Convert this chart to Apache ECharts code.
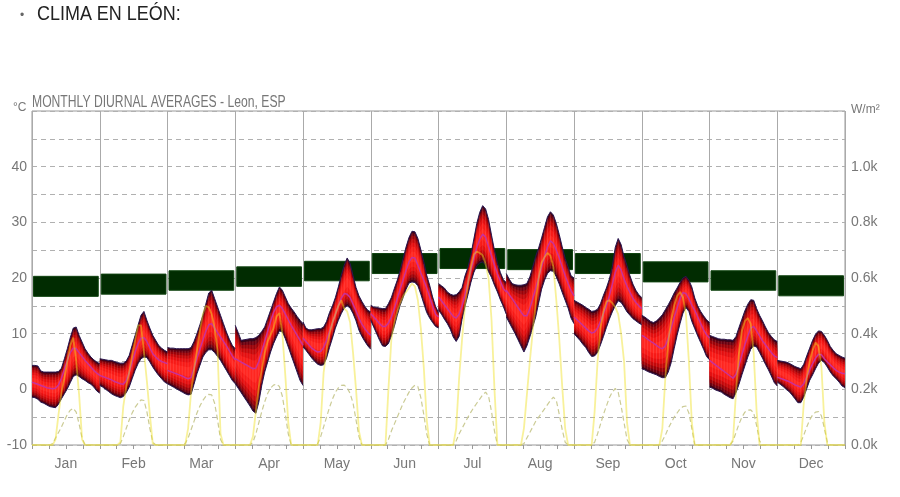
<!DOCTYPE html>
<html><head><meta charset="utf-8">
<script src="https://cdn.jsdelivr.net/npm/echarts/dist/echarts.min.js"></script>
<style>html,body{margin:0;padding:0;background:#fff}#c{width:900px;height:497px}</style>
</head><body><div id="c"></div><script>
const months = ['Jan','Feb','Mar','Apr','May','Jun','Jul','Aug','Sep','Oct','Nov','Dec'];
// hourly (0..23) temperature maxima, °C
const tMax = [
 [4.3,4.3,4.2,3.3,3.1,3.1,3.1,3.1,3.1,3.2,3.8,5.5,7.3,9.3,11.0,11.2,9.7,8.5,7.3,6.5,5.8,5.3,4.9,4.6],
 [5.5,5.4,5.3,5.2,5.2,5.0,4.8,4.7,4.7,5.1,6.1,7.9,9.7,11.5,13.3,14.0,12.4,11.0,9.7,8.8,7.9,7.4,7.0,6.7],
 [7.5,7.4,7.4,7.3,7.3,7.3,7.3,7.3,7.5,8.6,10.0,11.6,13.3,15.3,17.3,17.8,16.3,14.8,13.3,11.8,10.3,9.0,7.9,7.3],
 [11.5,10.2,8.8,8.9,9.0,9.1,9.1,9.3,9.7,10.4,11.2,12.7,14.2,15.7,17.2,18.4,17.8,16.6,15.4,14.6,13.9,13.1,12.4,11.8],
 [12.1,11.0,10.7,10.7,10.8,10.9,10.9,11.2,12.2,13.8,15.0,16.5,18.4,20.5,22.3,23.6,22.6,20.4,18.3,16.8,15.8,14.9,14.2,13.9],
 [15.1,14.8,14.7,14.6,14.5,14.5,15.4,16.5,18.1,19.6,21.4,23.5,25.6,27.3,28.4,28.3,27.1,25.1,22.9,20.5,18.7,16.6,14.9,13.8],
 [19.0,18.6,18.2,17.5,17.1,16.9,17.0,17.5,18.3,20.4,21.9,24.2,27.0,29.8,31.8,33.0,32.4,30.5,27.7,25.0,22.7,21.0,19.7,19.2],
 [20.8,19.8,19.0,18.8,18.7,18.7,18.8,19.0,20.2,22.0,23.9,25.4,27.2,29.1,31.0,31.9,31.3,29.8,27.8,25.6,23.5,22.0,20.4,20.0],
 [16.0,15.7,15.4,15.1,14.7,14.4,14.0,14.1,14.4,15.4,16.9,18.2,19.8,22.0,25.5,27.1,26.0,23.8,22.2,20.4,18.9,17.8,17.0,16.5],
 [13.3,13.0,12.6,12.2,12.0,12.3,12.8,13.4,14.3,15.2,16.2,17.3,18.2,19.2,20.0,20.3,19.6,18.4,16.4,15.0,14.0,13.2,12.5,12.0],
 [9.7,9.5,9.3,9.1,9.0,9.0,8.9,8.9,8.8,9.5,11.1,12.6,14.1,15.3,16.1,16.0,14.5,13.3,12.3,11.2,10.2,9.5,8.9,8.6],
 [5.2,5.1,5.0,4.9,4.7,4.4,4.1,3.9,3.7,4.5,6.0,7.4,8.8,9.9,10.5,10.4,9.7,8.8,7.7,7.0,6.4,6.1,5.8,5.6]
];
// hourly temperature minima, °C
const tMin = [
 [-1.4,-1.5,-1.8,-2.3,-2.5,-2.8,-3.1,-3.2,-3.3,-2.7,-1.7,-0.8,0.1,1.2,2.3,2.6,2.3,1.9,1.6,1.2,0.9,0.4,-0.3,-0.7],
 [0.7,0.4,0.0,-0.4,-0.8,-1.1,-1.3,-1.5,-1.3,-0.6,0.4,1.9,3.4,4.6,5.5,5.8,5.7,4.9,4.0,3.2,2.5,1.9,1.3,1.0],
 [1.0,0.7,0.4,0.1,-0.2,-0.5,-0.8,-1.0,-0.9,0.9,2.8,4.3,5.8,6.6,7.1,7.1,6.6,5.9,5.2,4.3,3.4,2.5,1.6,1.0],
 [1.0,0.2,-0.6,-1.4,-2.2,-3.0,-3.9,-4.3,-2.3,0.7,3.1,4.9,6.7,8.2,9.4,10.5,10.3,9.1,7.6,6.1,4.6,3.1,1.6,0.7],
 [7.6,7.0,6.3,5.6,5.0,4.5,4.3,4.4,5.6,7.5,9.2,11.0,12.4,13.6,14.6,15.0,14.6,13.6,12.3,10.6,9.5,8.6,7.8,7.2],
 [12.4,11.2,10.0,8.8,7.8,7.7,8.2,9.6,11.3,13.3,15.1,16.5,18.0,19.1,19.3,19.2,18.6,17.1,15.4,13.8,12.8,12.0,11.3,11.0],
 [14.2,13.5,12.6,11.8,10.8,9.4,8.6,9.5,12.6,14.9,17.0,19.2,21.0,22.2,22.7,22.9,22.3,21.1,20.1,18.7,17.5,16.1,14.9,13.5],
 [13.0,12.0,11.0,10.0,8.9,7.8,6.7,7.8,9.4,11.2,13.0,15.5,18.0,19.6,20.8,21.3,21.2,20.2,18.9,17.4,16.0,14.6,12.8,11.8],
 [10.0,9.4,8.8,8.1,7.5,6.6,5.9,6.0,6.6,8.0,9.5,11.1,12.6,13.9,15.0,15.9,15.6,14.8,13.9,13.3,12.7,12.3,11.9,11.6],
 [3.7,3.5,3.2,3.0,2.8,2.6,2.3,2.1,2.1,3.1,4.8,7.3,9.7,11.8,13.7,14.7,14.0,12.2,10.9,9.6,8.4,7.2,5.9,5.3],
 [0.4,0.2,-0.1,-0.3,-0.5,-0.9,-1.2,-1.5,-1.7,-0.6,0.9,2.6,4.2,5.8,7.2,7.8,7.6,6.6,5.6,4.5,3.5,2.4,1.2,0.6],
 [1.3,0.9,0.5,0.0,-0.4,-1.0,-1.7,-2.4,-2.4,-1.4,0.1,1.6,2.6,3.7,4.7,5.2,4.8,4.0,3.1,2.4,1.9,1.3,0.6,0.3]
];
// hourly mean temperature, °C
const tMean = [
 [1.3,1.1,0.9,0.7,0.5,0.3,0.2,0.1,0.2,0.8,2.0,3.6,5.2,6.6,7.4,7.3,6.6,5.9,5.2,4.6,4.0,3.4,2.9,2.5],
 [2.5,2.3,2.1,1.9,1.7,1.4,1.2,1.0,0.9,1.6,3.0,4.9,6.7,8.2,9.2,9.3,8.6,7.5,6.4,5.8,5.3,5.0,4.8,4.6],
 [3.4,3.2,3.0,2.8,2.6,2.4,2.1,1.9,2.1,3.8,5.6,7.2,8.8,10.4,11.6,11.8,11.0,10.2,9.4,8.6,7.8,6.9,6.0,5.3],
 [5.5,5.2,4.9,4.6,4.3,4.0,3.7,3.8,5.0,6.8,8.6,10.4,12.2,13.8,14.8,15.1,14.5,13.5,12.5,11.5,10.6,9.7,8.8,7.9],
 [9.2,8.6,8.0,7.4,7.0,6.7,6.8,7.5,8.8,10.4,11.9,13.5,15.0,16.4,17.2,17.1,16.5,15.3,14.1,12.8,11.7,10.9,10.2,9.7],
 [13.6,13.0,12.4,11.8,11.3,11.3,11.9,13.0,14.5,16.3,18.0,19.7,21.4,22.9,23.7,23.6,22.3,20.9,19.6,18.2,16.6,15.0,13.5,13.0],
 [16.6,15.9,15.2,14.5,13.8,13.1,12.8,13.5,15.0,17.0,19.2,21.4,23.5,25.5,27.0,27.9,27.3,25.6,24.0,22.3,20.7,19.4,18.1,17.5],
 [17.8,17.0,16.3,15.5,14.7,13.9,13.2,13.2,14.5,16.3,18.1,20.0,22.0,23.8,25.6,26.7,26.2,25.0,23.6,22.0,20.4,19.0,17.7,16.8],
 [13.0,12.5,12.0,11.5,11.0,10.5,10.1,10.3,11.0,12.2,13.6,15.0,16.8,18.8,21.0,22.3,21.4,19.8,18.5,17.4,16.4,15.6,15.0,14.5],
 [9.7,9.4,9.0,8.6,8.3,7.9,7.5,7.3,7.8,9.2,11.0,12.9,14.6,16.3,17.4,17.2,16.3,15.1,14.2,13.0,11.8,10.7,9.8,9.2],
 [5.2,4.8,4.4,4.0,3.6,3.2,2.8,2.4,2.0,2.7,4.3,6.2,8.0,9.6,11.0,11.3,10.5,9.6,8.7,8.0,7.3,6.6,6.0,5.7],
 [2.2,2.0,1.8,1.6,1.4,1.1,0.8,0.6,0.4,1.0,2.2,3.5,4.6,5.6,6.3,6.2,5.5,4.9,4.4,3.9,3.4,3.1,2.9,2.8]
];
// hourly direct solar radiation, W/m2
const solarDirect = [
 [0,0,0,0,0,0,0,0,20,110,190,240,300,358,386,304,180,20,0,0,0,0,0,0],
 [0,0,0,0,0,0,0,10,140,210,262,320,375,430,430,335,230,110,5,0,0,0,0,0],
 [0,0,0,0,0,0,0,60,190,270,340,410,470,500,495,470,420,340,40,0,0,0,0,0],
 [0,0,0,0,0,0,30,120,210,270,330,372,396,420,462,474,400,250,80,0,0,0,0,0],
 [0,0,0,0,0,0,80,260,340,400,440,470,500,520,490,480,440,330,200,50,0,0,0,0],
 [0,0,0,0,0,0,200,380,440,480,510,535,550,565,580,570,520,420,280,90,0,0,0,0],
 [0,0,0,0,0,0,60,240,380,500,580,640,685,695,690,682,650,600,450,200,0,0,0,0],
 [0,0,0,0,0,0,60,180,300,410,510,600,655,675,690,680,640,520,380,210,60,0,0,0],
 [0,0,0,0,0,0,0,120,300,420,480,515,520,510,495,470,400,300,80,0,0,0,0,0],
 [0,0,0,0,0,0,0,60,240,370,450,500,535,550,530,470,300,80,0,0,0,0,0,0],
 [0,0,0,0,0,0,0,0,20,190,330,410,445,456,435,330,120,0,0,0,0,0,0,0],
 [0,0,0,0,0,0,0,0,0,150,240,300,340,368,355,280,80,0,0,0,0,0,0,0]
];
// hourly diffuse solar radiation, W/m2
const solarDiffuse = [
 [0,0,0,0,0,0,0,5,25,45,65,88,110,125,132,118,75,25,0,0,0,0,0,0],
 [0,0,0,0,0,0,0,5,30,60,90,115,135,150,162,160,120,60,10,0,0,0,0,0],
 [0,0,0,0,0,0,5,25,55,85,115,140,160,175,182,180,150,90,20,0,0,0,0,0],
 [0,0,0,0,0,0,10,40,80,120,155,185,205,215,219,210,175,110,40,0,0,0,0,0],
 [0,0,0,0,0,5,30,65,100,135,165,190,205,214,215,205,185,150,90,30,0,0,0,0],
 [0,0,0,0,0,0,20,50,75,100,125,150,170,190,205,215,210,170,110,40,0,0,0,0],
 [0,0,0,0,0,0,15,40,60,80,100,118,135,150,165,180,190,175,120,50,0,0,0,0],
 [0,0,0,0,0,0,5,25,45,65,85,100,115,130,145,160,172,160,110,55,10,0,0,0],
 [0,0,0,0,0,0,0,10,40,75,110,140,170,190,203,190,140,80,20,0,0,0,0,0],
 [0,0,0,0,0,0,0,15,35,60,80,100,115,130,138,140,115,60,0,0,0,0,0,0],
 [0,0,0,0,0,0,0,0,15,45,75,100,118,125,126,115,70,15,0,0,0,0,0,0],
 [0,0,0,0,0,0,0,0,10,35,65,90,108,118,120,105,60,10,0,0,0,0,0,0]
];
// comfort band per month, °C
const comfortLo = [16.7,17.1,17.8,18.5,19.5,20.8,21.7,21.5,20.8,19.3,17.8,16.8];
const comfortHi = [20.3,20.7,21.3,22.0,23.0,24.4,25.3,25.1,24.4,22.9,21.3,20.4];

const FONT = "'Liberation Sans',Arial,sans-serif";
function xOf(m, h) { return m * 24 + h * 24 / 23; }

// shading layers of the temperature range band (fraction inset from each edge, colour)
const bandInsets = [0, 0.04, 0.09, 0.15, 0.22, 0.3, 0.4];
const bandColors = ['#3a0418', '#6a0010', '#9a0208', '#c4080a', '#e40f10', '#f71a17', '#ff2620'];

const bandData = [], stripeData = [], maxLine = [], minLine = [], meanLine = [], directLine = [], diffuseLine = [], comfortData = [];
months.forEach((name, m) => {
  bandInsets.forEach((f, k) => bandData.push([m * 24, m, k]));
  for (let h = 0; h < 24; h++) {
    const x = xOf(m, h);
    stripeData.push([x, tMin[m][h], tMax[m][h]]);
    maxLine.push([x, tMax[m][h]]);
    minLine.push([x, tMin[m][h]]);
    meanLine.push([x, tMean[m][h]]);
    directLine.push([x, solarDirect[m][h]]);
    diffuseLine.push([x, solarDiffuse[m][h]]);
  }
  maxLine.push([xOf(m, 23), null]);
  minLine.push([xOf(m, 23), null]);
  meanLine.push([xOf(m, 23), null]);
  comfortData.push([m, comfortLo[m], comfortHi[m]]);
});

const chart = echarts.init(document.getElementById('c'), null, {renderer: 'canvas'});
chart.setOption({
  animation: false,
  backgroundColor: '#fff',
  graphic: [
    {type: 'text', x: 20, y: 10, style: {text: '•', fill: '#666', font: '12px ' + FONT}},
    {type: 'text', x: 37, y: 4, scaleX: 0.855, style: {text: 'CLIMA EN LEÓN:', fill: '#222', font: '21px ' + FONT}},
    {type: 'text', x: 32, y: 95, scaleX: 0.76, style: {text: 'MONTHLY DIURNAL AVERAGES - Leon, ESP', fill: '#777', font: '16px ' + FONT}},
    {type: 'text', x: 13, y: 102, style: {text: '°C', fill: '#777', font: '12px ' + FONT}},
    {type: 'text', x: 851, y: 104, style: {text: 'W/m²', fill: '#777', font: '12px ' + FONT}}
  ],
  grid: {left: 32, right: 55, top: 111, bottom: 52, show: true, borderColor: '#999', borderWidth: 1, backgroundColor: 'transparent'},
  xAxis: [
    {type: 'category', data: months, boundaryGap: true,
      axisLine: {show: false}, axisTick: {show: false},
      axisLabel: {color: '#777', fontSize: 14, fontFamily: FONT, margin: 12},
      splitLine: {show: true, lineStyle: {color: '#aaa', width: 1}}},
    {type: 'value', min: 0, max: 288, interval: 6, position: 'bottom',
      axisLine: {show: false}, axisLabel: {show: false},
      axisTick: {show: true, length: 4, lineStyle: {color: '#999'}},
      splitLine: {show: false}}
  ],
  yAxis: [
    {type: 'value', min: -10, max: 50, interval: 5,
      axisLine: {show: false}, axisTick: {show: false},
      axisLabel: {color: '#777', fontSize: 14, fontFamily: FONT, margin: 5, showMaxLabel: false,
        formatter: v => (v % 10 === 0 && v < 50) ? String(v) : ''},
      splitLine: {show: true, lineStyle: {color: '#b0b0b0', type: [5, 4], width: 1}}},
    {type: 'value', min: 0, max: 1200, interval: 100, position: 'right',
      axisLine: {show: false}, axisTick: {show: false},
      axisLabel: {color: '#777', fontSize: 14, fontFamily: FONT, margin: 6, showMaxLabel: false,
        formatter: v => (v % 200 === 0 && v < 1200) ? (v / 1000).toFixed(1) + 'k' : ''},
      splitLine: {show: false}}
  ],
  series: [
    {type: 'custom', name: 'Comfort', xAxisIndex: 1, yAxisIndex: 0, z: 2,
      data: comfortData, encode: {x: 0, y: [1, 2]},
      renderItem(params, api) {
        const m = api.value(0);
        const p0 = api.coord([m * 24, api.value(2)]);
        const p1 = api.coord([(m + 1) * 24, api.value(1)]);
        return {type: 'rect', shape: {x: p0[0] + 1.5, y: p0[1], width: p1[0] - p0[0] - 3, height: p1[1] - p0[1]},
          style: {fill: '#012c01', stroke: '#114411', lineWidth: 1}};
      }},
    {type: 'custom', name: 'Temperature', xAxisIndex: 1, yAxisIndex: 0, z: 3,
      data: bandData, encode: {x: 0},
      renderItem(params, api) {
        const m = api.value(1), k = api.value(2), f = bandInsets[k];
        const top = [], bot = [];
        for (let h = 0; h < 24; h++) {
          const lo = tMin[m][h], hi = tMax[m][h], r = hi - lo;
          top.push(api.coord([xOf(m, h), hi - f * r]));
          bot.unshift(api.coord([xOf(m, h), lo + f * r]));
        }
        return {type: 'polygon', shape: {points: top.concat(bot)}, style: {fill: bandColors[k]}};
      }},
    {type: 'custom', name: 'HourStripes', xAxisIndex: 1, yAxisIndex: 0, z: 3.5,
      data: stripeData, encode: {x: 0, y: [1, 2]},
      renderItem(params, api) {
        const a = api.coord([api.value(0), api.value(1)]), b = api.coord([api.value(0), api.value(2)]);
        return {type: 'line', shape: {x1: a[0], y1: a[1] - 2, x2: b[0], y2: b[1] + 2},
          style: {stroke: 'rgba(255,190,190,0.16)', lineWidth: 1}};
      }},
    {type: 'line', name: 'Max', xAxisIndex: 1, yAxisIndex: 0, z: 4, data: maxLine, showSymbol: false, symbol: 'none',
      lineStyle: {color: '#2a1650', width: 1}},
    {type: 'line', name: 'Min', xAxisIndex: 1, yAxisIndex: 0, z: 4, data: minLine, showSymbol: false, symbol: 'none',
      lineStyle: {color: '#2a1650', width: 1}},
    {type: 'line', name: 'Mean', xAxisIndex: 1, yAxisIndex: 0, z: 5, data: meanLine, showSymbol: false, symbol: 'none',
      lineStyle: {color: '#c8309a', width: 1.5}},
    {type: 'line', name: 'Diffuse', xAxisIndex: 1, yAxisIndex: 1, z: 6, data: diffuseLine, showSymbol: false, symbol: 'none',
      lineStyle: {color: '#cbcb95', width: 1.2, type: [5, 3]}},
    {type: 'line', name: 'Direct', xAxisIndex: 1, yAxisIndex: 1, z: 7, data: directLine, showSymbol: false, symbol: 'none',
      lineStyle: {color: 'rgba(240,225,30,0.45)', width: 1.8}}
  ]
});
</script></body></html>
